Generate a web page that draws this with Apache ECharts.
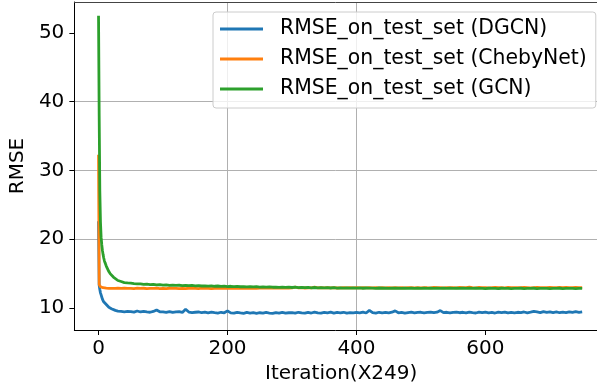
<!DOCTYPE html>
<html>
<head>
<meta charset="utf-8">
<script src="https://cdn.jsdelivr.net/npm/echarts@6/dist/echarts.min.js"></script>
<style>
  html, body { margin: 0; padding: 0; background: #fff; }
  #chart { width: 597px; height: 389px; }
</style>
</head>
<body>
<div id="chart"></div>
<script>
// iteration positions (X249)
const iterations = [
  0, 1, 2, 3, 4, 5, 6, 7, 8, 9, 10, 12, 14, 16, 18, 20, 23, 26, 30, 35, 40, 45,
  50, 55, 60, 65, 70, 75, 80, 85, 90, 95,
  100, 105, 110, 115, 120, 125, 130, 135, 140, 145,
  150, 155, 160, 165, 170, 175, 180, 185, 190, 195,
  200, 205, 210, 215, 220, 225, 230, 235, 240, 245,
  250, 255, 260, 265, 270, 275, 280, 285, 290, 295,
  300, 305, 310, 315, 320, 325, 330, 335, 340, 345,
  350, 355, 360, 365, 370, 375, 380, 385, 390, 395,
  400, 405, 410, 415, 420, 425, 430, 435, 440, 445,
  450, 455, 460, 465, 470, 475, 480, 485, 490, 495,
  500, 505, 510, 515, 520, 525, 530, 535, 540, 545,
  550, 555, 560, 565, 570, 575, 580, 585, 590, 595,
  600, 605, 610, 615, 620, 625, 630, 635, 640, 645,
  650, 655, 660, 665, 670, 675, 680, 685, 690, 695,
  700, 705, 710, 715, 720, 725, 730, 735, 740, 745,
  750
]

const rmseDGCN = [
  22.6, 13.3, 12.7, 12.2, 11.9, 11.6, 11.3, 11.1, 10.9, 10.8, 10.7, 10.5, 10.3, 10.1, 10.0, 9.9, 9.75, 9.65, 9.55, 9.5, 9.45, 9.5,
  9.48, 9.40, 9.56, 9.42, 9.52, 9.44, 9.38, 9.50, 9.72, 9.45,
  9.43, 9.36, 9.48, 9.35, 9.44, 9.47, 9.36, 9.82, 9.41, 9.34,
  9.38, 9.42, 9.31, 9.39, 9.30, 9.40, 9.33, 9.27, 9.38, 9.30,
  9.58, 9.29, 9.24, 9.36, 9.28, 9.22, 9.35, 9.26, 9.33, 9.23,
  9.31, 9.24, 9.35, 9.27, 9.21, 9.33, 9.25, 9.37, 9.24, 9.31,
  9.33, 9.25, 9.38, 9.28, 9.24, 9.36, 9.27, 9.40, 9.29, 9.25,
  9.36, 9.28, 9.39, 9.26, 9.35, 9.29, 9.38, 9.25, 9.34, 9.28,
  9.36, 9.29, 9.39, 9.27, 9.66, 9.32, 9.26, 9.38, 9.29, 9.36,
  9.28, 9.39, 9.58, 9.30, 9.37, 9.27, 9.34, 9.40, 9.29, 9.36,
  9.38, 9.30, 9.37, 9.41, 9.31, 9.39, 9.62, 9.32, 9.38, 9.29,
  9.37, 9.41, 9.31, 9.38, 9.28, 9.40, 9.32, 9.27, 9.39, 9.31,
  9.40, 9.29, 9.37, 9.27, 9.39, 9.31, 9.41, 9.28, 9.37, 9.30,
  9.38, 9.32, 9.42, 9.30, 9.39, 9.50, 9.42, 9.33, 9.48, 9.36,
  9.45, 9.34, 9.42, 9.31, 9.40, 9.33, 9.44, 9.35, 9.46, 9.37,
  9.44
]

const rmseChebyNet = [
  32.3, 13.4, 13.2, 13.1, 13.05, 13.0, 12.98, 12.95, 12.93, 12.92, 12.9, 12.88, 12.9, 12.86, 12.89, 12.85, 12.87, 12.84, 12.88, 12.85, 12.87, 12.84,
  12.86, 12.83, 12.88, 12.84, 12.87, 12.82, 12.86, 12.84, 12.88, 12.83,
  12.85, 12.82, 12.87, 12.84, 12.86, 12.81, 12.85, 12.83, 12.87, 12.84,
  12.86, 12.83, 12.88, 12.84, 12.86, 12.82, 12.87, 12.85, 12.88, 12.84,
  12.87, 12.85, 12.89, 12.86, 12.88, 12.85, 12.90, 12.87, 12.89, 12.86,
  12.90, 12.88, 12.92, 12.89, 12.91, 12.88, 12.93, 12.90, 12.92, 12.89,
  12.93, 13.05, 12.92, 12.95, 12.91, 12.94, 12.92, 13.02, 12.93, 12.95,
  12.92, 12.96, 12.93, 12.95, 12.91, 12.94, 12.96, 12.92, 12.95, 12.93,
  12.96, 12.93, 12.95, 12.92, 12.96, 12.94, 12.97, 12.93, 12.95, 12.94,
  12.96, 12.93, 12.97, 12.94, 12.96, 12.93, 12.95, 12.97, 12.94, 12.96,
  12.93, 12.97, 12.95, 12.94, 12.98, 12.95, 12.96, 12.93, 12.97, 12.95,
  12.96, 12.94, 12.98, 12.95, 12.97, 13.02, 12.96, 12.94, 12.98, 12.95,
  12.97, 12.94, 12.96, 12.98, 12.95, 12.97, 12.94, 12.98, 12.96, 12.95,
  12.97, 12.95, 12.98, 12.96, 12.94, 12.97, 12.99, 12.95, 12.97, 12.96,
  12.98, 12.95, 12.97, 12.99, 12.96, 12.98, 12.95, 12.97, 12.99, 12.96,
  12.97
]

const rmseGCN = [
  52.5, 38.0, 27.0, 22.5, 20.3, 19.2, 18.4, 17.8, 17.3, 16.9, 16.6, 16.1, 15.7, 15.3, 15.0, 14.8, 14.5, 14.25, 14.0, 13.85, 13.7, 13.65,
  13.62, 13.55, 13.50, 13.52, 13.44, 13.47, 13.40, 13.43, 13.37, 13.41,
  13.33, 13.36, 13.30, 13.34, 13.28, 13.31, 13.26, 13.30, 13.25, 13.28,
  13.22, 13.26, 13.20, 13.23, 13.18, 13.22, 13.16, 13.20, 13.15, 13.18,
  13.12, 13.16, 13.10, 13.14, 13.09, 13.12, 13.07, 13.11, 13.06, 13.10,
  13.05, 13.08, 13.03, 13.07, 13.02, 13.05, 13.01, 13.04, 12.99, 13.03,
  12.98, 13.02, 12.97, 13.00, 12.95, 12.99, 12.94, 12.98, 12.93, 12.97,
  12.92, 12.96, 12.91, 12.95, 12.90, 12.94, 12.89, 12.93, 12.90, 12.92,
  12.88, 12.92, 12.87, 12.91, 12.88, 12.90, 12.86, 12.91, 12.87, 12.89,
  12.86, 12.90, 12.87, 12.89, 12.85, 12.90, 12.86, 12.88, 12.85, 12.89,
  12.86, 12.89, 12.85, 12.88, 12.84, 12.89, 12.86, 12.88, 12.85, 12.87,
  12.84, 12.88, 12.85, 12.87, 12.84, 12.88, 12.85, 12.87, 12.84, 12.86,
  12.83, 12.87, 12.84, 12.86, 12.83, 12.87, 12.84, 12.86, 12.83, 12.85,
  12.84, 12.87, 12.83, 12.86, 12.84, 12.87, 12.83, 12.85, 12.84, 12.86,
  12.83, 12.86, 12.84, 12.87, 12.83, 12.85, 12.84, 12.86, 12.83, 12.85,
  12.84
]

const seriesNames = ['RMSE_on_test_set (DGCN)', 'RMSE_on_test_set (ChebyNet)', 'RMSE_on_test_set (GCN)']
const seriesColors = ['#1f77b4', '#ff7f0e', '#2ca02c']
const xTicks = [0, 200, 400, 600]
const yTicks = [10, 20, 30, 40, 50]

const font = 'DejaVu Sans'
// the picture is cut at the right, so the x range ends where the canvas ends
const xMin = -37.5
const xMax = 773

function pairs(ys) {
  return iterations.map((x, i) => [x, ys[i]])
}

const chart = echarts.init(document.getElementById('chart'), null, {renderer: 'canvas'})

let option = {
  animation: false,
  backgroundColor: '#fff',
  textStyle: {fontFamily: font},
  grid: {
    left: 72,
    top: 2,
    right: 0,
    height: 328
  },
  legend: {
    left: 213,
    top: 12,
    orient: 'vertical',
    padding: [7, 9, 9, 7],
    itemGap: 10,
    itemWidth: 43,
    itemHeight: 3,
    icon: 'rect',
    backgroundColor: 'rgba(255,255,255,0.8)',
    borderColor: '#cccccc',
    borderWidth: 1,
    borderRadius: 3,
    data: seriesNames,
    textStyle: {
      fontFamily: font,
      fontSize: 20.4,
      color: '#000',
      lineHeight: 20,
      padding: [0, 0, 0, 12]
    }
  },
  xAxis: [
    {
      type: 'value',
      min: xMin,
      max: xMax,
      name: 'Iteration(X249)',
      nameLocation: 'middle',
      nameGap: 33,
      nameTextStyle: {fontFamily: font, fontSize: 20, color: '#000', padding: [0, 0, 0, 11]},
      axisLine: {show: true, onZero: false, lineStyle: {color: '#000', width: 1}},
      axisTick: {show: true, length: 5, customValues: xTicks, lineStyle: {color: '#000'}},
      axisLabel: {customValues: xTicks, fontFamily: font, fontSize: 20, color: '#000', margin: 9},
      splitLine: {show: true, showMinLine: false, showMaxLine: false, lineStyle: {color: '#b0b0b0', width: 1}}
    },
    {
      // top spine only
      type: 'value',
      position: 'top',
      min: xMin,
      max: xMax,
      axisLine: {show: true, onZero: false, lineStyle: {color: '#444', width: 1}},
      axisTick: {show: false},
      axisLabel: {show: false},
      splitLine: {show: false}
    }
  ],
  yAxis: {
    type: 'value',
    min: 6.8,
    max: 54.5,
    name: 'RMSE',
    nameLocation: 'middle',
    nameGap: 43,
    nameTextStyle: {fontFamily: font, fontSize: 20, color: '#000'},
    axisLine: {show: true, onZero: false, lineStyle: {color: '#000', width: 1}},
    axisTick: {show: true, length: 5, customValues: yTicks, lineStyle: {color: '#000'}},
    axisLabel: {customValues: yTicks, fontFamily: font, fontSize: 20, color: '#000', margin: 10},
    splitLine: {show: true, showMinLine: false, showMaxLine: false, lineStyle: {color: '#b0b0b0', width: 1}}
  },
  series: [rmseDGCN, rmseChebyNet, rmseGCN].map((ys, i) => ({
    name: seriesNames[i],
    type: 'line',
    data: pairs(ys),
    showSymbol: false,
    color: seriesColors[i],
    lineStyle: {width: 2.8, color: seriesColors[i]},
    clip: true
  }))
}

chart.setOption(option)
</script>
</body>
</html>
